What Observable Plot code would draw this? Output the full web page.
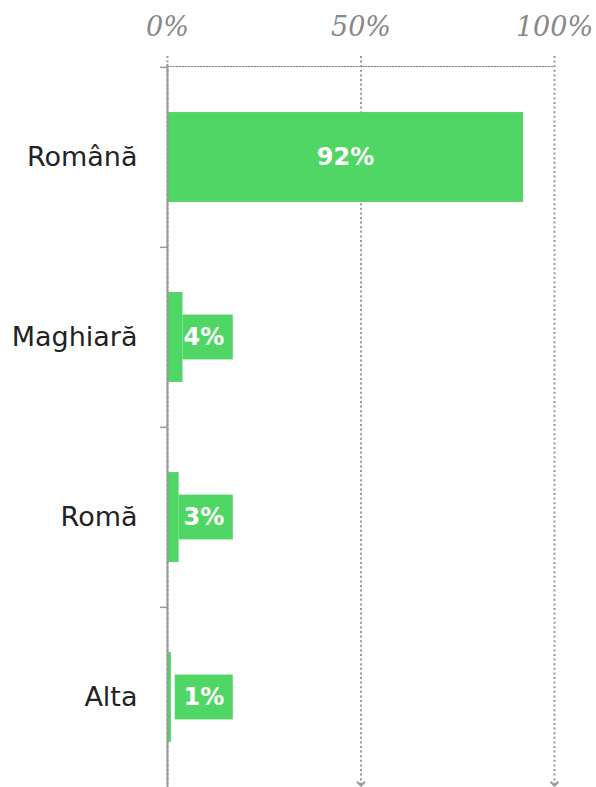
<!DOCTYPE html>
<html>
<head>
<meta charset="utf-8">
<script src="https://cdn.jsdelivr.net/npm/d3@7"></script>
<script src="https://cdn.jsdelivr.net/npm/@observablehq/plot@0.6"></script>
<style>
  html, body { margin: 0; padding: 0; background: #fff; }
  #chart svg { display: block; }
</style>
</head>
<body>
<div id="chart"></div>
<script>
const categories = ["Română", "Maghiară", "Romă", "Alta"];
const values = [92, 4, 3, 1];
const xTicks = [0, 50, 100];
const gridTicks = [0, 50, 100];

const data = categories.map((c, i) => ({ category: c, value: values[i] }));
const small = data.filter(d => d.value < 20);
const large = data.filter(d => d.value >= 20);

const W = 596, H = 787, mTop = 66, mBottom = 0, mLeft = 167, mRight = 42;
const step = (H - mTop - mBottom) / categories.length;
const green = "#50d664";
const gray = "#999";
const labelBoxEnd = 17;

const chevron = {
  draw(ctx, size) {
    const s = Math.sqrt(size) / 2;
    ctx.moveTo(-s, -s * 0.7);
    ctx.lineTo(0, s * 0.3);
    ctx.lineTo(s, -s * 0.7);
  }
};

const chart = Plot.plot({
  width: W,
  height: H,
  marginTop: mTop,
  marginBottom: mBottom,
  marginLeft: mLeft,
  marginRight: mRight,
  x: { domain: [0, 100], label: null },
  y: { domain: categories, padding: 0, label: null },
  marks: [
    Plot.frame({ anchor: "top", stroke: "#888", strokeWidth: 1.2, strokeDasharray: "1.2,1.8" }),
    Plot.ruleX(gridTicks, { stroke: gray, strokeWidth: 2, strokeDasharray: "2,2.6", insetTop: -10, insetBottom: 3 }),
    Plot.dot(gridTicks.filter(d => d > 0), { x: d => d, frameAnchor: "bottom", symbol: chevron, r: 4.5, stroke: gray, strokeWidth: 2, fill: "none", dy: -3 }),
    Plot.barX(data, { y: "category", x: "value", fill: green, insetTop: step / 4, insetBottom: step / 4 }),
    Plot.rectX(small, { y: "category", x1: d => Math.max(d.value, 2), x2: () => labelBoxEnd, fill: green, insetTop: step * 0.375, insetBottom: step * 0.375 }),
    Plot.text(large, { y: "category", x: d => d.value / 2, text: d => d.value + "%", fill: "white", fontWeight: "bold", fontSize: 24, fontFamily: "DejaVu Sans" }),
    Plot.text(small, { y: "category", x: () => labelBoxEnd, text: d => d.value + "%", fill: "white", fontWeight: "bold", fontSize: 24, fontFamily: "DejaVu Sans", textAnchor: "end", dx: -9 }),
    Plot.ruleX([0], { stroke: gray, strokeWidth: 2, insetTop: -2 }),
    Plot.axisY({ tickSize: 7, tickFormat: () => "", stroke: gray, strokeWidth: 1.5, dy: -step / 2, label: null }),
    Plot.axisY({ tickSize: 0, tickPadding: 30, fontSize: 27, fontFamily: "DejaVu Sans", fill: "#222", label: null }),
    Plot.axisX({ anchor: "top", ticks: xTicks, tickFormat: d => d + "%", tickSize: 0, tickPadding: 31, fontSize: 27, fontFamily: "DejaVu Serif", fontStyle: "italic", fill: "#888", label: null })
  ]
});
document.getElementById("chart").appendChild(chart);
</script>
</body>
</html>
